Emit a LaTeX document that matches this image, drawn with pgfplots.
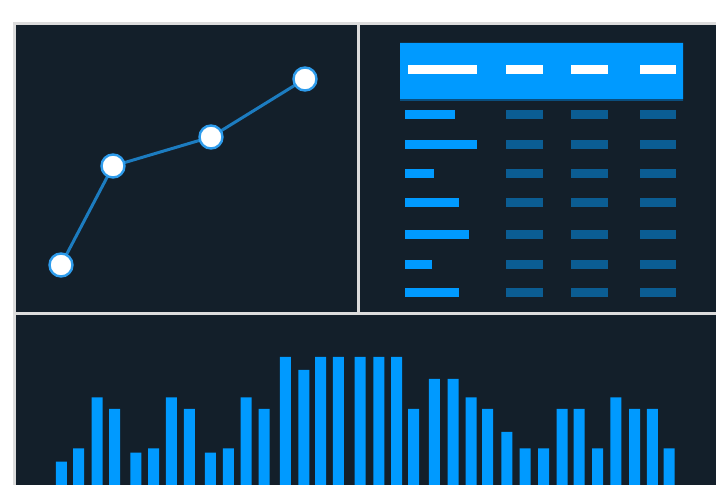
\documentclass[border=0pt]{standalone}
\usepackage{pgfplots}
\pgfplotsset{compat=1.18}
\definecolor{bgdark}{HTML}{131F2A}
\definecolor{frame}{HTML}{DCDCDC}
\definecolor{brightblue}{HTML}{009AFF}
\definecolor{dimblue}{HTML}{0B5D93}
\definecolor{linecol}{HTML}{1C7CC0}
\definecolor{ringcol}{HTML}{2E9CEC}
\definecolor{hdrshadow}{HTML}{0A4E7E}
\begin{document}
\begin{tikzpicture}
\begin{axis}[
  x=1pt, y=1pt,
  xmin=0, xmax=716, ymin=0, ymax=485,
  enlargelimits=false,
  axis lines=none,
  ticks=none,
  clip=true,
]
% background and frame
\fill[white] (axis cs:0,0) rectangle (axis cs:716,485);
\fill[frame] (axis cs:13,0) rectangle (axis cs:716,463);
\fill[bgdark] (axis cs:16,173) rectangle (axis cs:357,460);
\fill[bgdark] (axis cs:360,173) rectangle (axis cs:716,460);
\fill[bgdark] (axis cs:16,0) rectangle (axis cs:716,170);

% ---- line chart (top left)
\addplot[linecol, line width=3pt, mark=*, mark size=11.5pt,
  mark options={fill=white, draw=ringcol, line width=2.4pt}]
  coordinates {(61,220) (113,319) (211,348) (305,406)};

% ---- table glyph (top right)
\addplot[fill=hdrshadow, draw=none] coordinates {(400,384) (683,384) (683,386) (400,386) (400,384)};
\addplot[fill=brightblue, draw=none] coordinates {(400,386) (683,386) (683,442) (400,442) (400,386)};
% header labels
\addplot[white, line width=9pt, line cap=butt, unbounded coords=jump]
  coordinates {(408,415) (477,415) (nan,nan) (506,415) (543,415) (nan,nan)
               (571,415) (608,415) (nan,nan) (640,415) (676,415)};
% first column (bright)
\addplot[brightblue, line width=9pt, line cap=butt, unbounded coords=jump]
  coordinates {(405,370) (455,370) (nan,nan)
               (405,340) (477,340) (nan,nan)
               (405,311) (434,311) (nan,nan)
               (405,282) (459,282) (nan,nan)
               (405,250) (469,250) (nan,nan)
               (405,220) (432,220) (nan,nan)
               (405,192) (459,192)};
% other columns (dim)
\addplot[dimblue, line width=9pt, line cap=butt, unbounded coords=jump]
  coordinates {(506,370) (543,370) (nan,nan) (571,370) (608,370) (nan,nan) (640,370) (676,370) (nan,nan)
               (506,340) (543,340) (nan,nan) (571,340) (608,340) (nan,nan) (640,340) (676,340) (nan,nan)
               (506,311) (543,311) (nan,nan) (571,311) (608,311) (nan,nan) (640,311) (676,311) (nan,nan)
               (506,282) (543,282) (nan,nan) (571,282) (608,282) (nan,nan) (640,282) (676,282) (nan,nan)
               (506,250) (543,250) (nan,nan) (571,250) (608,250) (nan,nan) (640,250) (676,250) (nan,nan)
               (506,220) (543,220) (nan,nan) (571,220) (608,220) (nan,nan) (640,220) (676,220) (nan,nan)
               (506,192) (543,192) (nan,nan) (571,192) (608,192) (nan,nan) (640,192) (676,192)};
% clip last row at panel bottom
\fill[frame] (axis cs:360,170) rectangle (axis cs:716,173);
\fill[bgdark] (axis cs:360,173) rectangle (axis cs:716,188);

% ---- bar chart (bottom)
\addplot[ybar, bar width=11, fill=brightblue, draw=none]
  coordinates {
  (61.3,23.3) (78.7,36.7) (97,87.7) (114.5,76)
  (135.8,32.3) (153.7,36.7) (171.3,87.7) (189.3,76)
  (210.3,32.3) (228.3,36.7) (246,87.7) (264,76)
  (285.3,128) (303.8,115) (320.7,128) (338.3,128)
  (360,128) (378.8,128) (396.5,128) (413.5,76)
  (434.3,106) (453,106) (471,87.7) (487.7,76)
  (506.8,53) (525.2,36.7) (543.7,36.7) (562.2,76)
  (579,76) (597.5,36.7) (615.8,87.7) (634.7,76)
  (652.3,76) (669.2,36.7)};
\end{axis}
\end{tikzpicture}
\end{document}
